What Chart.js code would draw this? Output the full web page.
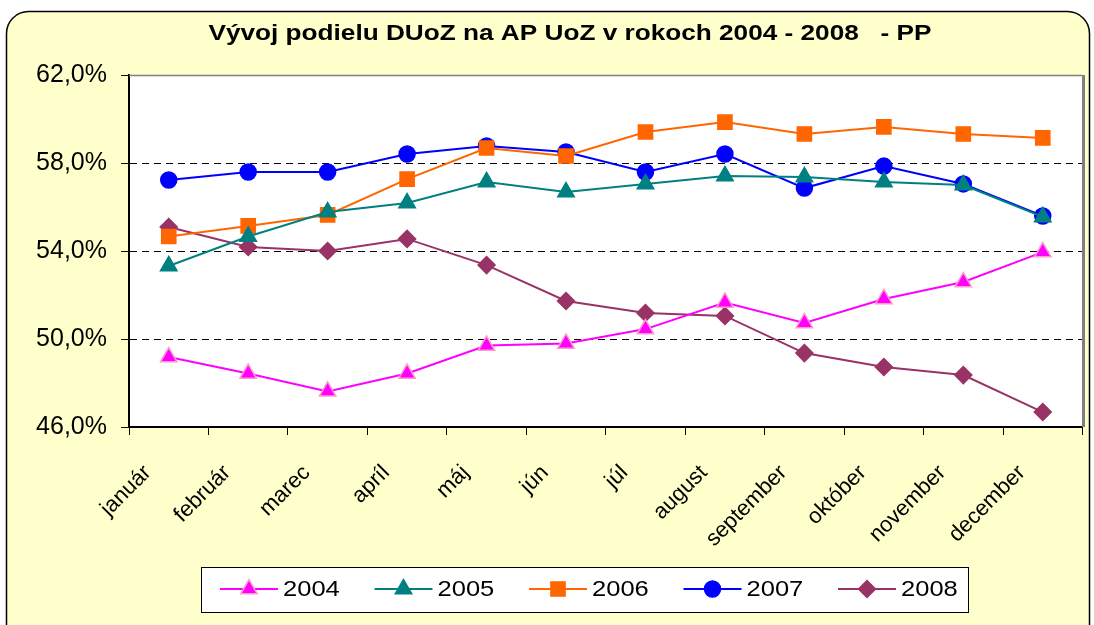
<!DOCTYPE html>
<html>
<head>
<meta charset="utf-8">
<script src="https://cdn.jsdelivr.net/npm/chart.js@4"></script>
<style>
  body { margin: 0; background: #fff; }
  #wrap { width: 1094px; height: 625px; }
</style>
</head>
<body>
<div id="wrap"><canvas id="myChart" width="1094" height="625"></canvas></div>
<script>
// data
const months = ['január','február','marec','apríl','máj','jún','júl','august','september','október','november','december'];
const years = ['2004','2005','2006','2007','2008'];
const v2004 = [49.18, 48.43, 47.62, 48.43, 49.70, 49.80, 50.45, 51.66, 50.73, 51.82, 52.59, 53.95];
const v2005 = [53.32, 54.66, 55.77, 56.18, 57.14, 56.68, 57.05, 57.41, 57.36, 57.14, 57.00, 55.55];
const v2006 = [54.66, 55.14, 55.64, 57.27, 58.68, 58.32, 59.41, 59.86, 59.32, 59.64, 59.32, 59.14];
const v2007 = [57.23, 57.59, 57.59, 58.41, 58.77, 58.50, 57.59, 58.41, 56.86, 57.86, 57.05, 55.59];
const v2008 = [55.09, 54.18, 54.00, 54.55, 53.36, 51.73, 51.18, 51.05, 49.36, 48.73, 48.36, 46.68];
const yTicks = [46, 50, 54, 58, 62];
const title = 'Vývoj podielu DUoZ na AP UoZ v rokoch 2004 - 2008   - PP';

const font = "'Liberation Sans', Arial, sans-serif";

function ds(label, data, color, style, radius, border) {
  return {
    label: label,
    data: data,
    borderColor: color,
    borderWidth: 2,
    backgroundColor: color,
    pointStyle: style,
    pointRadius: radius,
    pointHoverRadius: radius,
    pointBackgroundColor: color,
    pointBorderColor: border || color,
    pointBorderWidth: 1.5,
    tension: 0
  };
}

const datasets = [
  ds(years[0], v2004, '#FF00FF', 'triangle', 9.5, '#FF99CC'),
  ds(years[1], v2005, '#008080', 'triangle', 9.5),
  ds(years[2], v2006, '#FF6600', 'rect', 10),
  ds(years[3], v2007, '#0000FF', 'circle', 8),
  ds(years[4], v2008, '#993366', 'rectRot', 8.5)
];

// text a bit wider than the font, like the original picture
function wideText(c, txt, x, y, sx) {
  c.save();
  c.translate(x, y);
  c.scale(sx, 1);
  c.fillText(txt, 0, 0);
  c.restore();
}

// background, title, plot area and the legend box
const frame = {
  id: 'frame',
  beforeDraw(chart) {
    const c = chart.ctx, a = chart.chartArea;
    c.save();
    c.fillStyle = '#fff';
    c.fillRect(0, 0, chart.width, chart.height);
    c.beginPath();
    c.roundRect(6.5, 11.5, 1083, 640, 22);
    c.fillStyle = '#FFFFCC';
    c.fill();
    c.lineWidth = 1.5;
    c.strokeStyle = '#000';
    c.stroke();
    c.fillStyle = '#fff';
    c.fillRect(a.left, a.top, a.right - a.left, a.bottom - a.top);
    c.fillStyle = '#000';
    c.font = 'bold 22px ' + font;
    c.textAlign = 'center';
    c.textBaseline = 'middle';
    wideText(c, title, 570, 34, 1.19);
    c.restore();
  },
  beforeDatasetsDraw(chart) {
    const c = chart.ctx, a = chart.chartArea;
    c.save();
    c.strokeStyle = '#808080';
    c.lineWidth = 1.5;
    c.beginPath();
    c.moveTo(a.left, a.top + 0.5);
    c.lineTo(a.right, a.top + 0.5);
    c.stroke();
    c.lineWidth = 3;
    c.beginPath();
    c.moveTo(a.right + 1, a.top);
    c.lineTo(a.right + 1, a.bottom);
    c.stroke();
    c.restore();
  },
  afterDraw(chart) {
    const c = chart.ctx;
    c.save();
    c.fillStyle = '#fff';
    c.fillRect(201, 567, 767, 45);
    c.strokeStyle = '#000';
    c.lineWidth = 1;
    c.strokeRect(201.5, 567.5, 767, 45);
    const y = 589;
    chart.data.datasets.forEach((d, i) => {
      const x0 = 220 + i * 154.5;
      c.strokeStyle = d.borderColor;
      c.lineWidth = 2;
      c.beginPath();
      c.moveTo(x0, y);
      c.lineTo(x0 + 58, y);
      c.stroke();
      c.fillStyle = d.pointBackgroundColor;
      c.strokeStyle = d.pointBorderColor;
      c.lineWidth = d.pointBorderWidth;
      Chart.helpers.drawPoint(c, {pointStyle: d.pointStyle, radius: d.pointRadius, rotation: 0, borderWidth: d.pointBorderWidth}, x0 + 29, y);
      c.fillStyle = '#000';
      c.font = '22px ' + font;
      c.textBaseline = 'middle';
      c.textAlign = 'left';
      wideText(c, d.label, x0 + 63, y + 1, 1.16);
    });
    c.restore();
  }
};

new Chart(document.getElementById('myChart'), {
  type: 'line',
  data: { labels: months, datasets: datasets },
  plugins: [frame],
  options: {
    responsive: false,
    animation: false,
    layout: { padding: { left: 0, right: 10, top: 75, bottom: 0 } },
    plugins: {
      legend: { display: false },
      tooltip: { enabled: false }
    },
    scales: {
      x: {
        offset: true,
        grid: { offset: true, drawOnChartArea: false, drawTicks: true, tickLength: 8, tickColor: '#000', tickWidth: 1 },
        border: { color: '#000', width: 2 },
        ticks: {
          color: '#000',
          font: { family: font, size: 22 },
          minRotation: 45,
          maxRotation: 45,
          padding: 25,
          labelOffset: -21,
          autoSkip: false
        },
        afterFit(s) { s.height = 198; }
      },
      y: {
        min: 46,
        max: 62,
        afterBuildTicks(s) { s.ticks = yTicks.map(v => ({ value: v })); },
        grid: {
          color: c => (c.tick && (c.tick.value === 46 || c.tick.value === 62)) ? 'rgba(0,0,0,0)' : '#000',
          lineWidth: 1,
          tickLength: 8,
          tickColor: '#000'
        },
        border: { color: '#000', width: 2, dash: [7, 5] },
        ticks: {
          color: '#000',
          font: { family: font, size: 25 },
          padding: 14,
          callback: v => v.toFixed(1).replace('.', ',') + '%'
        },
        afterFit(s) { s.width = 129; }
      }
    }
  }
});
</script>
</body>
</html>
